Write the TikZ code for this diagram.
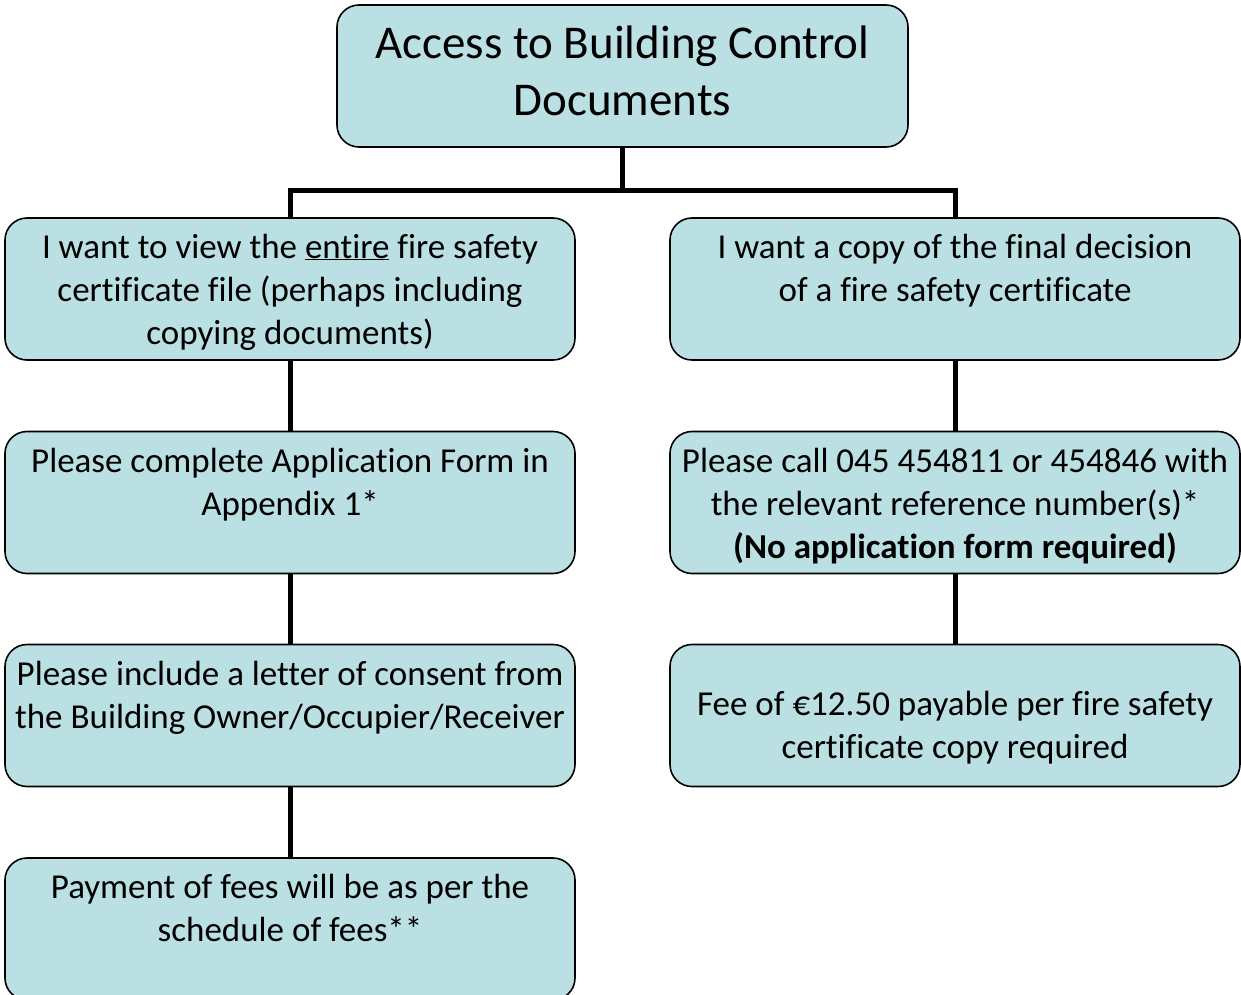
\documentclass[tikz,border=0pt]{standalone}
\usepackage{fontspec}
\setmainfont{Carlito}[Ligatures=NoCommon]
\definecolor{boxfill}{RGB}{186,224,227}
\begin{document}
\begin{tikzpicture}[x=1bp,y=-1bp,
  box/.style={draw=black, line width=1.6bp, fill=boxfill, rounded corners=22bp,
    minimum width=570bp, minimum height=142bp, inner sep=0pt},
  txt/.style={inner sep=0pt, align=center, font=\fontsize{35bp}{43bp}\selectfont},
  ttl/.style={inner sep=0pt, align=center, font=\fontsize{47bp}{57bp}\selectfont},
  conn/.style={draw=black, line width=5bp}]
\useasboundingbox (0,0) rectangle (1241,995);
\clip (0,0) rectangle (1241,995);
% boxes
\node[box, minimum width=571bp] (top) at (622.5,76) {};
\node[box] (L1) at (290,289) {};
\node[box] (L2) at (290,502.5) {};
\node[box] (L3) at (290,715.5) {};
\node[box] (L4) at (290,929) {};
\node[box] (R1) at (955,289) {};
\node[box] (R2) at (955,502.5) {};
\node[box] (R3) at (955,715.5) {};
% connectors
\coordinate (split) at (622.5,190);
\draw[conn] (top.south) -- (split);
\draw[conn] (split) -| (L1.north);
\draw[conn] (split) -| (R1.north);
\draw[conn] (L1.south) -- (L2.north);
\draw[conn] (L2.south) -- (L3.north);
\draw[conn] (L3.south) -- (L4.north);
\draw[conn] (R1.south) -- (R2.north);
\draw[conn] (R2.south) -- (R3.north);
% texts (anchor=base is the baseline of the last line)
\node[ttl, anchor=base] (ttop) at (622.5,115) {Access to Building Control\\Documents};
\node[txt, anchor=base] (tL1) at (290,344) {I want to view the \underline{entire} fire safety\\certificate file (perhaps including\\copying documents)};
\node[txt, anchor=base] (tL2) at (290,515) {Please complete Application Form in\\Appendix 1*};
\node[txt, anchor=base] (tL3) at (290,728) {Please include a letter of consent from\\the Building Owner/Occupier/Receiver};
\node[txt, anchor=base] (tL4) at (290,941) {Payment of fees will be as per the\\schedule of fees**};
\node[txt, anchor=base] (tR1) at (955,301) {I want a copy of the final decision\\of a fire safety certificate};
\node[txt, anchor=base] (tR2) at (955,558) {Please call 045 454811 or 454846 with\\the relevant reference number(s)*\\\textbf{(No application form required)}};
\node[txt, anchor=base] (tR3) at (955,758) {Fee of €12.50 payable per fire safety\\certificate copy required};
\end{tikzpicture}
\end{document}
